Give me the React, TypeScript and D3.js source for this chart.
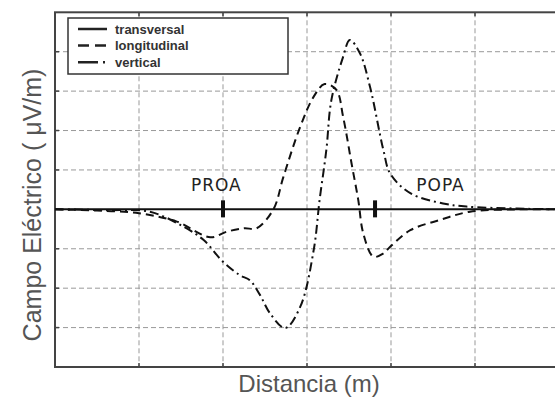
import React, { useEffect, useRef } from 'react';
import * as d3 from 'd3';

// distance (grid units) and field values
const transversalX = [0, 1, 2, 3, 4, 5, 6];
const transversalY = [0, 0, 0, 0, 0, 0, 0];

const longitudinalX = [0, 0.5, 1.0, 1.45, 1.85, 2.04, 2.25, 2.4, 2.6, 2.72, 2.92, 3.08, 3.21, 3.35, 3.43, 3.53, 3.61, 3.67, 3.79, 3.91, 3.99, 4.23, 4.58, 4.94, 5.5, 6];
const longitudinalY = [0, -0.03, -0.1, -0.31, -0.71, -0.57, -0.48, -0.48, 0, 0.83, 2.1, 2.86, 3.18, 3.03, 2.35, 1.17, 0.24, -0.61, -1.2, -1.12, -0.95, -0.53, -0.27, -0.06, 0, 0];

const verticalX = [0, 0.6, 1.13, 1.53, 1.77, 2.0, 2.2, 2.32, 2.44, 2.56, 2.74, 2.92, 3.08, 3.15, 3.23, 3.29, 3.43, 3.51, 3.63, 3.75, 3.91, 3.99, 4.23, 4.62, 4.9, 5.5, 6];
const verticalY = [0, -0.02, -0.06, -0.44, -0.78, -1.33, -1.67, -1.8, -2.17, -2.64, -3.01, -2.47, -1.03, 0.24, 1.5, 2.77, 3.87, 4.3, 3.96, 3.11, 1.5, 0.91, 0.41, 0.15, 0.07, 0.02, 0];

const seriesNames = ['transversal', 'longitudinal', 'vertical'];
const xTicks = [1, 2, 3, 4, 5];
const yTicks = [-3, -2, -1, 1, 2, 3, 4];
const markers = [
  { label: 'PROA', x: 2.0, labelX: 1.92 },
  { label: 'POPA', x: 3.81, labelX: 4.59 },
];

export default function App() {
  const ref = useRef<SVGSVGElement>(null);

  useEffect(() => {
    const width = 555;
    const height = 400;
    const svg = d3.select(ref.current);
    svg.selectAll('*').remove();
    svg.attr('width', width).attr('height', height);

    const x = d3.scaleLinear().domain([0, 6]).range([55, 559]);
    const y = d3.scaleLinear().domain([-4, 5]).range([367, 12.3]);

    svg.append('rect').attr('width', width).attr('height', height).attr('fill', '#fff');

    // grid
    svg.append('g')
      .selectAll('line')
      .data(xTicks)
      .enter()
      .append('line')
      .attr('x1', d => x(d)).attr('x2', d => x(d))
      .attr('y1', y(5)).attr('y2', y(-4))
      .attr('stroke', '#999')
      .attr('stroke-dasharray', '5,3');

    svg.append('g')
      .selectAll('line')
      .data(yTicks)
      .enter()
      .append('line')
      .attr('x1', x(0)).attr('x2', x(6))
      .attr('y1', d => y(d)).attr('y2', d => y(d))
      .attr('stroke', '#999')
      .attr('stroke-dasharray', '5,3');

    // inward ticks
    const ticks = svg.append('g').attr('stroke', '#444').attr('stroke-width', 1.5);
    xTicks.forEach(t => {
      ticks.append('line').attr('x1', x(t)).attr('x2', x(t)).attr('y1', y(5)).attr('y2', y(5) + 4);
      ticks.append('line').attr('x1', x(t)).attr('x2', x(t)).attr('y1', y(-4)).attr('y2', y(-4) - 4);
    });
    yTicks.forEach(t => {
      ticks.append('line').attr('x1', x(0)).attr('x2', x(0) + 4).attr('y1', y(t)).attr('y2', y(t));
    });

    // frame
    svg.append('rect')
      .attr('x', x(0)).attr('y', y(5))
      .attr('width', x(6) - x(0)).attr('height', y(-4) - y(5))
      .attr('fill', 'none')
      .attr('stroke', '#444')
      .attr('stroke-width', 2);

    const line = d3.line<[number, number]>()
      .x(d => x(d[0]))
      .y(d => y(d[1]))
      .curve(d3.curveCatmullRom.alpha(0.5));

    const series = [
      { xs: transversalX, ys: transversalY, dash: null, width: 2 },
      { xs: longitudinalX, ys: longitudinalY, dash: '8,5', width: 2 },
      { xs: verticalX, ys: verticalY, dash: '9,4,2,4', width: 2 },
    ];

    series.forEach(s => {
      const pts = s.xs.map((v, i) => [v, s.ys[i]] as [number, number]);
      svg.append('path')
        .attr('d', line(pts))
        .attr('fill', 'none')
        .attr('stroke', '#111')
        .attr('stroke-width', s.width)
        .attr('stroke-dasharray', s.dash);
    });

    // PROA / POPA markers
    markers.forEach(m => {
      svg.append('rect')
        .attr('x', x(m.x) - 2).attr('y', y(0) - 9)
        .attr('width', 4).attr('height', 17)
        .attr('fill', '#111');
      svg.append('text')
        .attr('x', x(m.labelX)).attr('y', y(0.47))
        .attr('text-anchor', 'middle')
        .attr('font-family', '"DejaVu Sans", sans-serif')
        .attr('font-size', 17)
        .attr('letter-spacing', 1)
        .attr('fill', '#222')
        .text(m.label);
    });

    // legend
    const legend = svg.append('g');
    legend.append('rect')
      .attr('x', 68).attr('y', 18)
      .attr('width', 220).attr('height', 56)
      .attr('fill', '#fff')
      .attr('stroke', '#333')
      .attr('stroke-width', 1.5);
    const legendDash = [null, '11,6', '20,5,2,10'];
    seriesNames.forEach((name, i) => {
      const ly = 29 + i * 16.6;
      legend.append('line')
        .attr('x1', 78).attr('x2', 107)
        .attr('y1', ly).attr('y2', ly)
        .attr('stroke', '#222')
        .attr('stroke-width', 2.5)
        .attr('stroke-dasharray', legendDash[i]);
      legend.append('text')
        .attr('x', 115).attr('y', ly + 4.5)
        .attr('font-family', '"Liberation Sans", Arial, sans-serif')
        .attr('font-size', 13)
        .attr('font-weight', 'bold')
        .attr('fill', '#333')
        .text(name);
    });

    // axis titles
    svg.append('text')
      .attr('x', 309).attr('y', 392)
      .attr('text-anchor', 'middle')
      .attr('font-family', '"Liberation Sans", Arial, sans-serif')
      .attr('font-size', 24)
      .attr('fill', '#555')
      .text('Distancia (m)');

    svg.append('text')
      .attr('transform', 'translate(41,205) rotate(-90)')
      .attr('text-anchor', 'middle')
      .attr('font-family', '"Liberation Sans", Arial, sans-serif')
      .attr('font-size', 25)
      .attr('fill', '#555')
      .text('Campo Eléctrico ( μV/m)');
  }, []);

  return <svg ref={ref} style={{ position: 'absolute', left: 0, top: 0, display: 'block' }} />;
}
